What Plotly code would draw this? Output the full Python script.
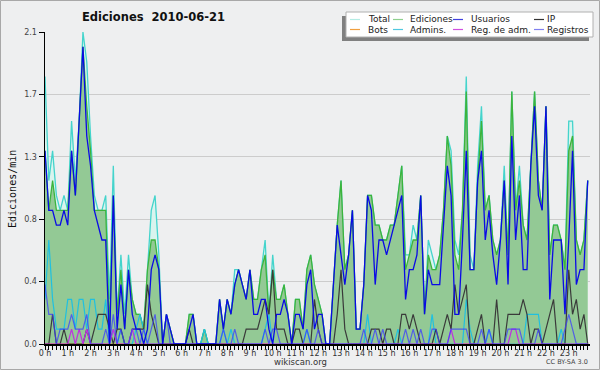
import plotly.graph_objects as go

# 10-minute slots over the day (minutes since 00:00)
slots = list(range(0, 1440, 10))

total = [1.8, 1.1, 1.3, 1.0, 0.9, 1.0, 0.9, 1.5, 1.1, 1.5, 2.1, 1.9,
         1.4, 1.0, 0.9, 0.9, 1.0, 0.3, 1.2, 0.2, 0.6, 0.2, 0.6, 0.3,
         0.2, 0.2, 0.1, 0.5, 0.9, 1.0, 0.6, 0.0, 0.2, 0.1, 0.0, 0.0,
         0.0, 0.0, 0.2, 0.2, 0.0, 0.0, 0.1, 0.0, 0.0, 0.0, 0.3, 0.1,
         0.3, 0.2, 0.5, 0.5, 0.4, 0.3, 0.5, 0.3, 0.3, 0.5, 0.7, 0.2,
         0.6, 0.3, 0.3, 0.4, 0.2, 0.0, 0.3, 0.3, 0.1, 0.5, 0.6, 0.4,
         0.3, 0.2, 0.0, 0.0, 0.4, 0.8, 1.1, 0.5, 0.6, 0.9, 0.1, 0.1,
         0.4, 1.0, 1.0, 0.8, 0.8, 0.7, 0.7, 0.8, 0.8, 1.0, 1.2, 0.6,
         0.6, 0.8, 0.7, 1.0, 0.2, 0.7, 0.6, 0.5, 0.6, 0.9, 1.4, 1.3,
         0.7, 0.6, 0.9, 1.8, 0.6, 0.5, 1.2, 1.6, 0.9, 1.0, 0.7, 0.6,
         0.7, 1.2, 0.6, 1.7, 0.9, 1.2, 0.8, 0.7, 1.2, 1.7, 1.1, 0.9,
         1.6, 0.6, 0.8, 0.8, 0.7, 0.5, 1.5, 1.5, 0.7, 0.6, 0.7, 1.1]

ediciones = [1.3, 0.9, 1.1, 0.9, 0.9, 0.9, 0.9, 1.3, 1.0, 1.5, 2.0, 1.6,
             1.3, 0.9, 0.9, 0.9, 0.9, 0.1, 1.0, 0.2, 0.5, 0.1, 0.5, 0.3,
             0.2, 0.2, 0.1, 0.5, 0.7, 0.7, 0.5, 0.0, 0.2, 0.1, 0.0, 0.0,
             0.0, 0.0, 0.2, 0.2, 0.0, 0.0, 0.1, 0.0, 0.0, 0.0, 0.3, 0.1,
             0.3, 0.2, 0.4, 0.5, 0.4, 0.3, 0.5, 0.3, 0.3, 0.5, 0.6, 0.2,
             0.5, 0.3, 0.3, 0.4, 0.2, 0.0, 0.3, 0.3, 0.1, 0.5, 0.6, 0.4,
             0.3, 0.2, 0.0, 0.0, 0.4, 0.8, 1.1, 0.5, 0.6, 0.9, 0.1, 0.1,
             0.4, 1.0, 1.0, 0.8, 0.8, 0.7, 0.7, 0.8, 0.8, 1.0, 1.2, 0.5,
             0.6, 0.7, 0.7, 1.0, 0.2, 0.6, 0.5, 0.5, 0.6, 0.9, 1.4, 1.2,
             0.6, 0.5, 0.9, 1.7, 0.5, 0.5, 1.1, 1.5, 0.9, 1.0, 0.7, 0.6,
             0.7, 1.1, 0.6, 1.7, 0.9, 1.1, 0.8, 0.7, 1.2, 1.7, 1.1, 0.9,
             1.6, 0.6, 0.8, 0.8, 0.7, 0.5, 1.3, 1.4, 0.7, 0.6, 0.7, 1.1]

usuarios = [1.3, 0.9, 0.9, 0.8, 0.8, 0.9, 0.8, 1.3, 1.0, 1.5, 2.0, 1.4,
            1.2, 0.9, 0.8, 0.7, 0.7, 0.0, 1.0, 0.1, 0.4, 0.1, 0.5, 0.2,
            0.1, 0.1, 0.0, 0.1, 0.5, 0.6, 0.5, 0.0, 0.2, 0.1, 0.0, 0.0,
            0.0, 0.0, 0.1, 0.2, 0.0, 0.0, 0.0, 0.0, 0.0, 0.0, 0.3, 0.1,
            0.3, 0.2, 0.4, 0.5, 0.4, 0.3, 0.5, 0.2, 0.2, 0.3, 0.3, 0.1,
            0.0, 0.2, 0.2, 0.3, 0.2, 0.0, 0.2, 0.2, 0.1, 0.4, 0.5, 0.1,
            0.2, 0.2, 0.0, 0.0, 0.4, 0.8, 0.6, 0.4, 0.6, 0.9, 0.1, 0.1,
            0.4, 1.0, 0.9, 0.4, 0.7, 0.7, 0.6, 0.7, 0.8, 0.9, 1.0, 0.3,
            0.5, 0.5, 0.6, 1.0, 0.2, 0.5, 0.4, 0.4, 0.4, 0.8, 1.2, 1.0,
            0.2, 0.2, 0.7, 1.3, 0.5, 0.5, 1.1, 1.3, 0.7, 0.9, 0.6, 0.4,
            0.7, 1.1, 0.4, 1.4, 0.7, 1.0, 0.5, 0.5, 1.2, 1.6, 1.0, 0.9,
            1.6, 0.3, 0.7, 0.7, 0.7, 0.2, 0.7, 1.3, 0.4, 0.5, 0.5, 1.1]

ip = [0.0, 0.0, 0.2, 0.0, 0.0, 0.1, 0.0, 0.0, 0.0, 0.0, 0.0, 0.1,
      0.0, 0.1, 0.2, 0.2, 0.2, 0.1, 0.0, 0.1, 0.1, 0.0, 0.0, 0.1,
      0.1, 0.1, 0.1, 0.4, 0.2, 0.1, 0.0, 0.0, 0.0, 0.0, 0.0, 0.0,
      0.0, 0.0, 0.1, 0.0, 0.0, 0.0, 0.0, 0.0, 0.0, 0.0, 0.0, 0.0,
      0.0, 0.0, 0.0, 0.0, 0.0, 0.1, 0.1, 0.1, 0.1, 0.2, 0.3, 0.2,
      0.5, 0.1, 0.1, 0.1, 0.0, 0.0, 0.1, 0.1, 0.0, 0.0, 0.0, 0.3,
      0.1, 0.0, 0.0, 0.0, 0.0, 0.2, 0.5, 0.1, 0.0, 0.0, 0.0, 0.0,
      0.0, 0.0, 0.1, 0.1, 0.1, 0.0, 0.1, 0.1, 0.0, 0.0, 0.2, 0.2,
      0.1, 0.2, 0.1, 0.0, 0.0, 0.0, 0.0, 0.1, 0.0, 0.1, 0.2, 0.1,
      0.4, 0.2, 0.3, 0.4, 0.0, 0.0, 0.1, 0.2, 0.0, 0.0, 0.0, 0.3,
      0.0, 0.0, 0.2, 0.2, 0.2, 0.2, 0.3, 0.2, 0.0, 0.1, 0.1, 0.0,
      0.1, 0.2, 0.3, 0.0, 0.0, 0.0, 0.5, 0.2, 0.3, 0.1, 0.2, 0.0]

bots = [0.0] * 144

admins = [0.3, 0.7, 0.3, 0.1, 0.1, 0.1, 0.3, 0.3, 0.1, 0.3, 0.3, 0.1,
          0.3, 0.3, 0.1, 0.1, 0.3, 0.0, 0.1, 0.0, 0.1, 0.0, 0.0, 0.0,
          0.1, 0.2, 0.1, 0.0, 0.0, 0.0, 0.0, 0.0, 0.0, 0.0, 0.0, 0.0,
          0.0, 0.0, 0.0, 0.0, 0.0, 0.0, 0.1, 0.0, 0.0, 0.0, 0.0, 0.1,
          0.0, 0.1, 0.0, 0.0, 0.0, 0.0, 0.0, 0.0, 0.0, 0.0, 0.1, 0.2,
          0.0, 0.0, 0.0, 0.0, 0.0, 0.0, 0.0, 0.0, 0.0, 0.1, 0.0, 0.0,
          0.0, 0.0, 0.0, 0.0, 0.0, 0.0, 0.0, 0.0, 0.0, 0.0, 0.0, 0.0,
          0.0, 0.2, 0.0, 0.0, 0.0, 0.0, 0.0, 0.0, 0.0, 0.1, 0.0, 0.0,
          0.0, 0.0, 0.0, 0.0, 0.0, 0.0, 0.2, 0.0, 0.0, 0.0, 0.0, 0.0,
          0.0, 0.0, 0.0, 0.3, 0.1, 0.0, 0.0, 0.0, 0.0, 0.1, 0.0, 0.0,
          0.0, 0.0, 0.0, 0.0, 0.0, 0.0, 0.0, 0.2, 0.2, 0.2, 0.2, 0.0,
          0.0, 0.0, 0.0, 0.0, 0.1, 0.0, 0.0, 0.0, 0.0, 0.0, 0.0, 0.0]

reg_adm = [0.0, 0.0, 0.0, 0.0, 0.0, 0.0, 0.0, 0.1, 0.0, 0.1, 0.0, 0.1,
           0.0, 0.0, 0.0, 0.0, 0.0, 0.0, 0.1, 0.0, 0.0, 0.0, 0.0, 0.1,
           0.0, 0.0, 0.0, 0.0, 0.0, 0.0, 0.0, 0.0, 0.0, 0.0, 0.0, 0.0,
           0.0, 0.0, 0.0, 0.0, 0.0, 0.0, 0.0, 0.0, 0.0, 0.0, 0.0, 0.0,
           0.0, 0.0, 0.0, 0.0, 0.0, 0.0, 0.0, 0.0, 0.0, 0.0, 0.0, 0.0,
           0.0, 0.0, 0.0, 0.0, 0.0, 0.0, 0.0, 0.0, 0.0, 0.0, 0.0, 0.0,
           0.0, 0.0, 0.0, 0.0, 0.0, 0.0, 0.0, 0.0, 0.0, 0.0, 0.0, 0.0,
           0.0, 0.0, 0.0, 0.0, 0.0, 0.0, 0.0, 0.0, 0.0, 0.0, 0.0, 0.0,
           0.0, 0.0, 0.0, 0.0, 0.0, 0.0, 0.0, 0.0, 0.0, 0.0, 0.0, 0.1,
           0.0, 0.0, 0.0, 0.0, 0.0, 0.0, 0.0, 0.0, 0.0, 0.0, 0.0, 0.0,
           0.0, 0.0, 0.0, 0.1, 0.1, 0.0, 0.0, 0.0, 0.0, 0.0, 0.0, 0.0,
           0.0, 0.0, 0.0, 0.0, 0.0, 0.0, 0.0, 0.0, 0.0, 0.0, 0.0, 0.0]

registros = [0.4, 0.2, 0.2, 0.0, 0.1, 0.1, 0.1, 0.2, 0.1, 0.1, 0.1, 0.2,
             0.0, 0.0, 0.0, 0.0, 0.1, 0.0, 0.2, 0.0, 0.1, 0.0, 0.0, 0.1,
             0.1, 0.0, 0.1, 0.0, 0.1, 0.2, 0.0, 0.0, 0.2, 0.0, 0.0, 0.0,
             0.0, 0.0, 0.0, 0.0, 0.0, 0.0, 0.0, 0.0, 0.0, 0.0, 0.0, 0.1,
             0.0, 0.0, 0.1, 0.0, 0.0, 0.0, 0.0, 0.0, 0.0, 0.0, 0.1, 0.0,
             0.1, 0.1, 0.0, 0.0, 0.0, 0.0, 0.0, 0.0, 0.0, 0.1, 0.0, 0.0,
             0.1, 0.0, 0.0, 0.0, 0.0, 0.0, 0.0, 0.0, 0.0, 0.0, 0.0, 0.0,
             0.1, 0.0, 0.0, 0.1, 0.0, 0.1, 0.0, 0.0, 0.0, 0.0, 0.0, 0.1,
             0.0, 0.1, 0.0, 0.1, 0.0, 0.0, 0.1, 0.1, 0.0, 0.0, 0.0, 0.1,
             0.1, 0.1, 0.1, 0.1, 0.0, 0.0, 0.0, 0.1, 0.0, 0.1, 0.0, 0.0,
             0.0, 0.0, 0.1, 0.1, 0.1, 0.1, 0.0, 0.0, 0.0, 0.0, 0.1, 0.0,
             0.0, 0.0, 0.0, 0.0, 0.0, 0.1, 0.2, 0.1, 0.0, 0.0, 0.0, 0.0]

hour_ticks = list(range(0, 1440, 60))
hour_labels = [f"{h} h" for h in range(24)]
y_ticks = [0, 0.42, 0.84, 1.26, 1.68, 2.1]
y_labels = ["0.0", "0.4", "0.8", "1.3", "1.7", "2.1"]

legend_names = ["Total", "Ediciones", "Usuarios", "IP",
                "Bots", "Admins.", "Reg. de adm.", "Registros"]
legend_colors = ["#b4ece4", "#8fd08f", "#4040e0", "#333333",
                 "#f0a040", "#50c8e0", "#d050e0", "#8080f0"]

FONT = "DejaVu Sans"

fig = go.Figure()
fig.add_trace(go.Scatter(x=slots, y=total, mode="lines", fill="tozeroy",
                         fillcolor="#d9f4ee", line=dict(color="#44d4cc", width=1.3)))
fig.add_trace(go.Scatter(x=slots, y=ediciones, mode="lines", fill="tozeroy",
                         fillcolor="#93c995", line=dict(color="#3cb43c", width=1.3)))
fig.add_trace(go.Scatter(x=slots, y=bots, mode="lines",
                         line=dict(color="#f0a040", width=1.2)))
fig.add_trace(go.Scatter(x=slots, y=admins, mode="lines",
                         line=dict(color="#20c0e0", width=1.2)))
fig.add_trace(go.Scatter(x=slots, y=ip, mode="lines",
                         line=dict(color="#3a3a3a", width=1.2)))
fig.add_trace(go.Scatter(x=slots, y=reg_adm, mode="lines",
                         line=dict(color="#c030e0", width=1.2)))
fig.add_trace(go.Scatter(x=slots, y=registros, mode="lines",
                         line=dict(color="rgba(60,60,255,0.75)", width=1.2)))
fig.add_trace(go.Scatter(x=slots, y=usuarios, mode="lines",
                         line=dict(color="#0a0ae6", width=1.3)))

W, H = 600, 370
L, R, T, B = 45, 10, 32, 26
pw, ph = W - L - R, H - T - B

def px(x):
    return (x - L) / pw

def py(y):
    return (H - B - y) / ph

shapes = []
annotations = []

# outer border of image
shapes.append(dict(type="rect", xref="paper", yref="paper",
                   x0=px(0.5), x1=px(599.5), y0=py(369.5), y1=py(0.5),
                   line=dict(color="#a8a8a8", width=1), layer="below"))

# legend shadow and box
shapes.append(dict(type="rect", xref="paper", yref="paper",
                   x0=px(342), x1=px(589), y0=py(41), y1=py(16),
                   line=dict(width=0), fillcolor="#808080", layer="above"))
shapes.append(dict(type="rect", xref="paper", yref="paper",
                   x0=px(346), x1=px(593), y0=py(37), y1=py(12),
                   line=dict(color="#b0b0b0", width=1), fillcolor="#ffffff", layer="above"))

col_sw = [350, 393, 453, 534]
col_tx = [366, 408, 469, 545]
row_y = [19.5, 29.5]
for k, (name, col) in enumerate(zip(legend_names, legend_colors)):
    c, r = k % 4, k // 4
    shapes.append(dict(type="line", xref="paper", yref="paper",
                       x0=px(col_sw[c]), x1=px(col_sw[c] + 10),
                       y0=py(row_y[r]), y1=py(row_y[r]),
                       line=dict(color=col, width=1.2), layer="above"))
    annotations.append(dict(x=px(col_tx[c]), y=py(row_y[r]), xref="paper", yref="paper",
                            text=name, showarrow=False, xanchor="left", yanchor="middle",
                            font=dict(family=FONT, size=9, color="#222222")))

annotations.append(dict(x=px(153), y=py(17), xref="paper", yref="paper",
                        text="<b>Ediciones  2010-06-21</b>", showarrow=False,
                        xanchor="center", yanchor="middle",
                        font=dict(family=FONT, size=11.5, color="#111111")))
annotations.append(dict(x=px(12), y=py(189), xref="paper", yref="paper",
                        text="Ediciones/min", showarrow=False, textangle=-90,
                        xanchor="center", yanchor="middle",
                        font=dict(family="DejaVu Sans Mono", size=10, color="#111111")))
annotations.append(dict(x=px(300), y=py(362), xref="paper", yref="paper",
                        text="wikiscan.org", showarrow=False,
                        xanchor="center", yanchor="middle",
                        font=dict(family=FONT, size=8.5, color="#333333")))
annotations.append(dict(x=px(590), y=py(362), xref="paper", yref="paper",
                        text="CC BY-SA 3.0", showarrow=False,
                        xanchor="right", yanchor="middle",
                        font=dict(family=FONT, size=6.5, color="#444444")))

fig.update_layout(
    width=W, height=H,
    margin=dict(l=L, r=R, t=T, b=B, pad=0),
    paper_bgcolor="#eeeff0", plot_bgcolor="#eeeff0",
    showlegend=False, hovermode=False,
    shapes=shapes, annotations=annotations,
    font=dict(family=FONT, size=8, color="#444444"),
    xaxis=dict(range=[0, 1436], tickvals=hour_ticks, ticktext=hour_labels,
               ticks="outside", ticklen=4, tickcolor="#000000", tickwidth=1,
               showline=True, linecolor="#000000", linewidth=1.5,
               showgrid=False, zeroline=False, ticklabelstandoff=-3,
               tickfont=dict(family=FONT, size=8, color="#333333"),
               minor=dict(dtick=10, tick0=0, ticks="outside", ticklen=4,
                          tickcolor="#000000", showgrid=False)),
    yaxis=dict(range=[0, 2.1], tickvals=y_ticks, ticktext=y_labels,
               ticks="outside", ticklen=5, tickcolor="#000000",
               showline=True, linecolor="#000000", linewidth=1.5,
               showgrid=True, gridcolor="#cccccc", gridwidth=1,
               zeroline=False,
               tickfont=dict(family=FONT, size=8, color="#444444")),
)

fig.write_html("out.html",
               config={"displayModeBar": False, "staticPlot": True},
               post_script="document.body.style.margin='0';document.body.style.padding='0';document.body.style.overflow='hidden';")
